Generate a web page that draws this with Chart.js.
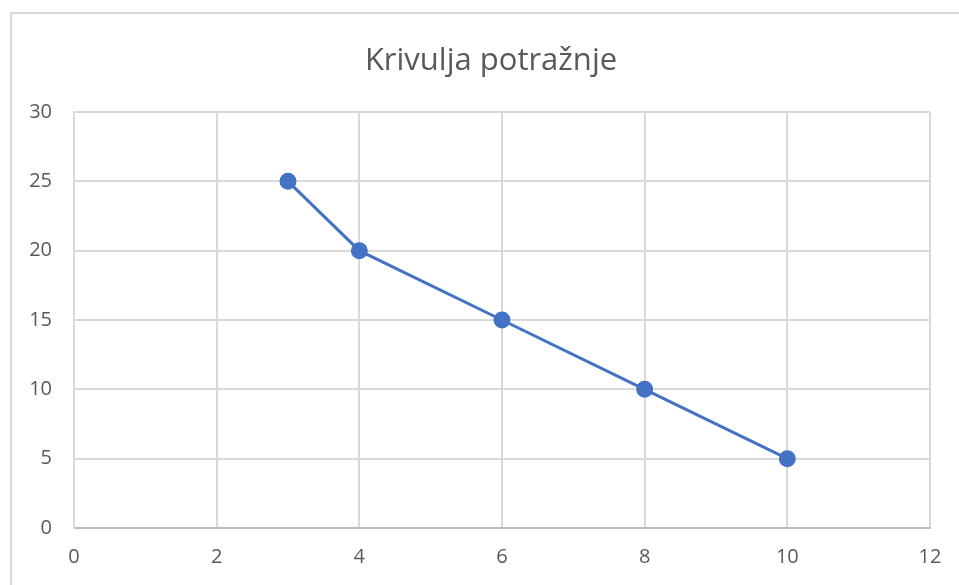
<!DOCTYPE html>
<html>
<head>
<meta charset="utf-8">
<script src="https://cdn.jsdelivr.net/npm/chart.js@4/dist/chart.umd.min.js"></script>
<style>
  body { margin: 0; background: #fff; }
  #wrap { position: relative; width: 959px; height: 585px; }
</style>
</head>
<body>
<div id="wrap"><canvas id="chart" width="959" height="585"></canvas></div>
<script>
// 데이터
const title = 'Krivulja potražnje';
const xValues = [3, 4, 6, 8, 10];
const yValues = [25, 20, 15, 10, 5];
const xTicks = [0, 2, 4, 6, 8, 10, 12];
const yTicks = [0, 5, 10, 15, 20, 25, 30];

const FONT = '"Open Sans", "Noto Sans", sans-serif';
const grey = '#595959';

// 바깥 테두리 + 제목
const frame = {
    id: 'frame',
    beforeDraw(chart) {
        const c = chart.ctx;
        c.save();
        c.strokeStyle = '#d9d9d9';
        c.lineWidth = 2;
        c.strokeRect(11, 13, 1100, 800);
        c.fillStyle = grey;
        c.font = '31px ' + FONT;
        c.textAlign = 'center';
        c.textBaseline = 'middle';
        c.fillText(title, 491, 61);
        c.restore();
    }
};

new Chart(document.getElementById('chart'), {
    type: 'scatter',
    data: {
        datasets: [{
            data: xValues.map((x, i) => ({ x: x, y: yValues[i] })),
            showLine: true,
            borderColor: '#4472c4',
            backgroundColor: '#4472c4',
            borderWidth: 3,
            pointRadius: 7,
            pointHoverRadius: 7
        }]
    },
    options: {
        responsive: false,
        animation: false,
        layout: { padding: { left: 0, top: 112, right: 29, bottom: 0 } },
        plugins: { legend: { display: false }, tooltip: { enabled: false } },
        scales: {
            x: {
                type: 'linear',
                min: xTicks[0],
                max: xTicks[xTicks.length - 1],
                afterBuildTicks: s => { s.ticks = xTicks.map(v => ({ value: v })); },
                afterFit: s => { s.height = 57; },
                grid: { color: '#d9d9d9', lineWidth: 2, drawTicks: false },
                border: { color: '#bfbfbf', width: 2 },
                ticks: { color: grey, font: { family: FONT, size: 20 }, padding: 17 }
            },
            y: {
                min: yTicks[0],
                max: yTicks[yTicks.length - 1],
                afterBuildTicks: s => { s.ticks = yTicks.map(v => ({ value: v })); },
                afterFit: s => { s.width = 74; },
                grid: { color: '#d9d9d9', lineWidth: 2, drawTicks: false },
                border: { color: '#d9d9d9', width: 2 },
                ticks: { color: grey, font: { family: FONT, size: 20 }, padding: 22 }
            }
        }
    },
    plugins: [frame]
});
</script>
</body>
</html>
